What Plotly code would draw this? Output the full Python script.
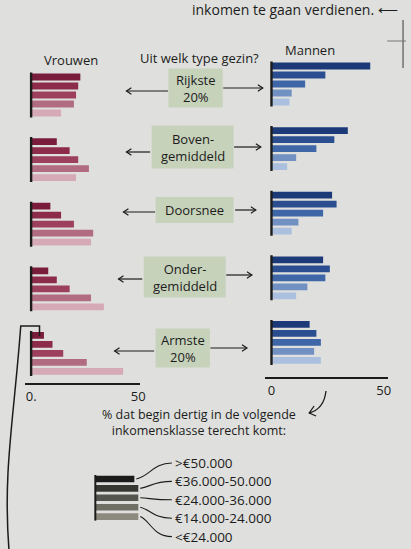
import plotly.graph_objects as go

# ---------------- data ----------------
groups = ["Rijkste<br>20%", "Boven-<br>gemiddeld", "Doorsnee", "Onder-<br>gemiddeld", "Armste<br>20%"]
classes = [">€50.000", "€36.000-50.000", "€24.000-36.000", "€14.000-24.000", "<€24.000"]
# % per income class (rows = class, cols = family type)
women = [
    [23, 12, 9, 8, 6],
    [22, 18, 14, 12, 10],
    [21, 22, 20, 18, 15],
    [20, 27, 29, 28, 26],
    [14, 21, 28, 34, 43],
]
men = [
    [44, 34, 27, 23, 17],
    [24, 28, 29, 26, 20],
    [15, 20, 23, 24, 22],
    [9, 11, 12, 16, 19],
    [8, 7, 9, 11, 22],
]
tick_vals = [0, 50]
women_ticks = ["0.", "50"]
men_ticks = ["0", "50"]

# ---------------- style ----------------
W, H = 411, 549
BG = "#dfe0dd"
INK = "#1c1c1c"
FONT = "Open Sans"
women_col = ["#7a1d3d", "#8d2c4a", "#9d405d", "#b26c82", "#d5a9b6"]
men_col = ["#1c3a78", "#2a4e8f", "#3f66a6", "#7091c2", "#abc0df"]
legend_col = ["#1b1b1b", "#363633", "#55554f", "#706f66", "#8c8a7e"]

STEP = 9.0          # px between bars in a group
GSTEP = 64.6        # px between groups
W_TOP = 77          # first bar centre, women (px from top)
M_TOP = 66          # first bar centre, men


def px(x):
    return x / W


def py(y):
    return 1 - y / H


fig = go.Figure()

for k in range(len(classes)):
    fig.add_trace(go.Bar(
        x=women[k], y=[W_TOP + g * GSTEP + k * STEP for g in range(len(groups))],
        orientation="h", width=6.8, marker=dict(color=women_col[k], line=dict(width=0)),
        xaxis="x", yaxis="y", hoverinfo="skip"))
    fig.add_trace(go.Bar(
        x=men[k], y=[M_TOP + g * GSTEP + k * STEP for g in range(len(groups))],
        orientation="h", width=6.8, marker=dict(color=men_col[k], line=dict(width=0)),
        xaxis="x2", yaxis="y", hoverinfo="skip"))

shapes = []
annotations = []


def text(x, y, t, size=13, xanchor="center"):
    annotations.append(dict(xref="paper", yref="paper", x=px(x), y=py(y), text=t,
                            xanchor=xanchor, yanchor="middle", showarrow=False,
                            font=dict(size=size, color=INK, family=FONT)))


def arrow(hx, hy, tx, width=1.2):
    """horizontal arrow drawn as shapes: shaft plus open head"""
    d = 1 if tx > hx else -1
    shapes.append(dict(type="line", xref="paper", yref="paper", x0=px(tx), x1=px(hx),
                       y0=py(hy), y1=py(hy), line=dict(color=INK, width=width)))
    head = "M {} {} L {} {} L {} {}".format(px(hx + 5 * d), py(hy - 3.2), px(hx), py(hy),
                                            px(hx + 5 * d), py(hy + 3.2))
    shapes.append(dict(type="path", xref="paper", yref="paper", path=head,
                       line=dict(color=INK, width=width)))


# vertical baseline per group
for g in range(len(groups)):
    for ax, top in (("x", W_TOP), ("x2", M_TOP)):
        y0 = top + g * GSTEP - 4.5
        y1 = top + g * GSTEP + 4 * STEP + 4.5
        shapes.append(dict(type="line", xref=ax, yref="y", x0=0, x1=0, y0=y0, y1=y1,
                           line=dict(color=INK, width=2.4)))

# centre labels (green boxes) and arrows
boxes = [
    (198, 88, 55, 39, (128, 91, 170), (266, 88, 226)),
    (195, 147, 83, 43, (128, 152, 152), (264, 147, 237)),
    (197, 210, 79, 26, (125, 212, 157), (259, 210, 238)),
    (187, 277, 83, 41, (120, 279, 144), (255, 275, 229)),
    (185, 348, 55, 39, (116, 351, 156), (250, 348, 213)),
]
for (cx, cy, bw, bh, la, ra), label in zip(boxes, groups):
    shapes.append(dict(type="rect", xref="paper", yref="paper",
                       x0=px(cx - bw / 2), x1=px(cx + bw / 2), y0=py(cy + bh / 2), y1=py(cy - bh / 2),
                       fillcolor="#c7d2bb", line=dict(width=0), layer="below"))
    text(cx, cy, label)
    for hx, hy, tx in (la, ra):
        arrow(hx, hy, tx)

# headers
text(72, 60, "Vrouwen")
text(202, 58, "Uit welk type gezin?")
text(314, 50, "Mannen")

# top (cut) text
text(405, 10, "inkomen te gaan verdienen. ⟵", size=14, xanchor="right")
shapes.append(dict(type="line", xref="paper", yref="paper", x0=px(408), x1=px(408), y0=py(20), y1=py(68),
                   line=dict(color="#555", width=1.2)))
shapes.append(dict(type="line", xref="paper", yref="paper", x0=px(392), x1=px(411), y0=py(41), y1=py(41),
                   line=dict(color="#777", width=1)))

# explanation text with curved arrow
text(201, 422, "% dat begin dertig in de volgende<br>inkomensklasse terecht komt:", size=12.5)

curve = "M {} {} Q {} {} {} {}".format(px(330), py(391), px(328), py(409), px(313), py(413))
shapes.append(dict(type="path", xref="paper", yref="paper", path=curve, line=dict(color=INK, width=1.3)))
head = "M {} {} L {} {} L {} {}".format(px(318), py(406), px(313), py(413), px(320), py(416))
shapes.append(dict(type="path", xref="paper", yref="paper", path=head, line=dict(color=INK, width=1.3)))

# bracket at left
br = "M {} {} L {} {} L {} {} C {} {}, {} {}, {} {}".format(
    px(40), py(336), px(40), py(326), px(21), py(326),
    px(14), py(420), px(3), py(470), px(9), py(549))
shapes.append(dict(type="path", xref="paper", yref="paper", path=br, line=dict(color=INK, width=1.5)))

# legend swatches and labels
sw_top = 479
for k, (c, lab) in enumerate(zip(legend_col, classes)):
    yc = sw_top + k * 9.4
    x_end = 136 if k == 0 else 140
    shapes.append(dict(type="rect", xref="paper", yref="paper", x0=px(97), x1=px(x_end),
                       y0=py(yc + 3.3), y1=py(yc - 3.3), fillcolor=c, line=dict(width=0)))
    ly = 463 + k * 18.4
    conn = "M {} {} C {} {}, {} {}, {} {}".format(
        px(x_end + 2), py(yc), px(152), py(yc - (yc - ly) * 0.2), px(155), py(ly), px(174), py(ly))
    shapes.append(dict(type="path", xref="paper", yref="paper", path=conn, line=dict(color=INK, width=1.1)))
    text(175, ly, lab, size=13.5, xanchor="left")
shapes.append(dict(type="line", xref="paper", yref="paper", x0=px(96.5), x1=px(96.5),
                   y0=py(sw_top - 4), y1=py(sw_top + 4 * 9.4 + 4), line=dict(color=INK, width=2)))

axis_common = dict(showgrid=False, zeroline=False, showline=True, linecolor=INK, linewidth=2.4,
                   ticks="", tickfont=dict(size=13, color=INK, family=FONT), tickvals=tick_vals,
                   fixedrange=True, anchor="free")

fig.update_layout(
    width=W, height=H, margin=dict(l=0, r=0, t=0, b=0),
    paper_bgcolor=BG, plot_bgcolor=BG, showlegend=False, barmode="overlay",
    xaxis=dict(domain=[px(25), px(142)], range=[-3, 51], position=py(384), ticktext=women_ticks,
               **axis_common),
    xaxis2=dict(domain=[px(268), px(393)], range=[-3, 52], position=py(378), ticktext=men_ticks,
                **axis_common),
    yaxis=dict(domain=[0, 1], range=[H, 0], visible=False, fixedrange=True),
    shapes=shapes, annotations=annotations,
    font=dict(family=FONT, color=INK),
)

fig.write_html("out.html", config={"displayModeBar": False},
               post_script="document.body.style.margin='0';document.body.style.overflow='hidden';")
